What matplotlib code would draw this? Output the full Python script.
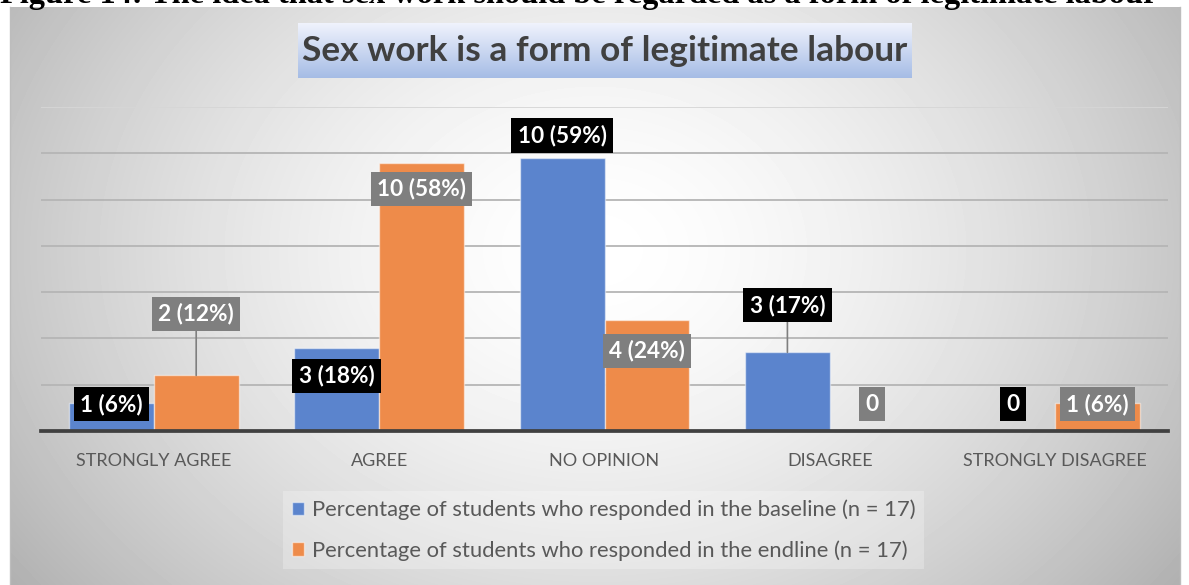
import numpy as np
import matplotlib
matplotlib.use("Agg")
import matplotlib.pyplot as plt

plt.rcParams['font.family'] = ['Lato', 'DejaVu Sans']

# survey answers, baseline vs endline (n = 17 each)
categories = ["STRONGLY AGREE", "AGREE", "NO OPINION", "DISAGREE", "STRONGLY DISAGREE"]
baseline_counts = [1, 3, 10, 3, 0]
baseline_pct = [6, 18, 59, 17, 0]
endline_counts = [2, 10, 4, 0, 1]
endline_pct = [12, 58, 24, 0, 6]
series_names = ["Percentage of students who responded in the baseline (n = 17)",
                "Percentage of students who responded in the endline (n = 17)"]

# callout heights (in %) picked by hand so the boxes stay clear of each other
baseline_label_y = [5.8, 11.9, 63.8, 27.2, 5.8]
endline_label_y = [25.3, 52.3, 17.3, 5.8, 5.8]

caption = "Figure 14: The idea that sex work should be regarded as a form of legitimate labour"
title = "Sex work is a form of legitimate labour"

BLUE = "#5b84cd"
ORANGE = "#ee8b4a"
TEXT = "#595959"
W, H = 1189, 585

fig = plt.figure(figsize=(W / 100, H / 100), dpi=100)

# background layer in pixel units
bg = fig.add_axes([0, 0, 1, 1], zorder=-1)
bg.set_xlim(0, W)
bg.set_ylim(H, 0)
bg.axis('off')

yy, xx = np.mgrid[7:H, 10:1180]
d = np.hypot((xx - 595) / 620, (yy - 250) / 480)
shade = 1 - 0.24 * np.clip(d, 0, 1.2) ** 1.6
bg.imshow(shade, cmap='gray', vmin=0, vmax=1, extent=(10, 1180, H, 7),
          aspect='auto', interpolation='bilinear')
bg.plot([10, 10], [7, H], color='#bdbdbd', lw=1)
bg.plot([1180, 1180], [7, H], color='#bdbdbd', lw=1)

# title banner with a light blue vertical gradient
top_c = np.array([0.94, 0.95, 0.99])
bot_c = np.array([0.65, 0.74, 0.90])
t = np.linspace(0, 1, 60)[:, None, None]
banner = top_c * (1 - t) + bot_c * t
bg.imshow(np.repeat(banner, 2, axis=1), extent=(298, 912, 78, 23), aspect='auto',
          interpolation='bilinear')
bg.text(605, 51, title, ha='center', va='center', fontsize=25.4, fontweight='bold',
        color='#404040')

bg.text(0, 3, caption, ha='left', va='baseline', fontsize=23.3, fontweight='bold',
        family='Liberation Serif', color='black')

# main chart
ax = fig.add_axes([41 / W, (H - 431) / H, 1127 / W, 324 / H])
ax.set_facecolor('none')
x = np.arange(len(categories))
w = 0.377
b1 = ax.bar(x - w / 2, baseline_pct, w, color=BLUE, edgecolor=(1, 1, 1, 0.5),
            linewidth=1, label=series_names[0], zorder=3)
b2 = ax.bar(x + w / 2, endline_pct, w, color=ORANGE, edgecolor=(1, 1, 1, 0.5),
            linewidth=1, label=series_names[1], zorder=3)

ax.set_xlim(-0.5, 4.5)
ax.set_ylim(0, 70)
ax.set_yticks(range(10, 71, 10))
ax.yaxis.grid(True, color='#b5b5b5', linewidth=1.3)
ax.set_axisbelow(True)
ax.get_ygridlines()[-1].set_color('#d6d6d6')
for s in ['left', 'right', 'top']:
    ax.spines[s].set_visible(False)
ax.spines['bottom'].set_color('#404040')
ax.spines['bottom'].set_linewidth(2.7)
ax.spines['bottom'].set_zorder(4)
ax.tick_params(axis='y', left=False, labelleft=False)
ax.set_xticks(x, categories)
ax.tick_params(axis='x', length=0, pad=16, labelsize=13, labelcolor=TEXT)


def callouts(xs, counts, pcts, label_y, box_color):
    for xc, c, p, ly in zip(xs, counts, pcts, label_y):
        txt = f"{c} ({p}%)" if c else "0"
        leader = None
        if ly - p > 8:
            leader = dict(arrowstyle='-', color='#7f7f7f', lw=1.2, shrinkA=0, shrinkB=0)
        ax.annotate(txt, xy=(xc, p), xytext=(xc, ly), ha='center', va='center',
                    color='white', fontweight='bold', fontsize=16.3, zorder=6,
                    bbox=dict(boxstyle='square,pad=0.28', fc=box_color, ec='none'),
                    arrowprops=leader)


callouts(x - w / 2, baseline_counts, baseline_pct, baseline_label_y, 'black')
callouts(x + w / 2, endline_counts, endline_pct, endline_label_y, '#7f7f7f')

leg = ax.legend(handles=[b1, b2], loc='upper left', bbox_to_anchor=(283 / W, (H - 491) / H),
                bbox_transform=fig.transFigure, frameon=True, fancybox=False,
                facecolor='white', edgecolor='none', framealpha=0.25,
                fontsize=15.8, labelcolor=TEXT,
                handlelength=0.55, handleheight=0.55, handletextpad=0.36,
                labelspacing=0.9, borderpad=0.4, borderaxespad=0)

fig.savefig("out.png", dpi=100)
